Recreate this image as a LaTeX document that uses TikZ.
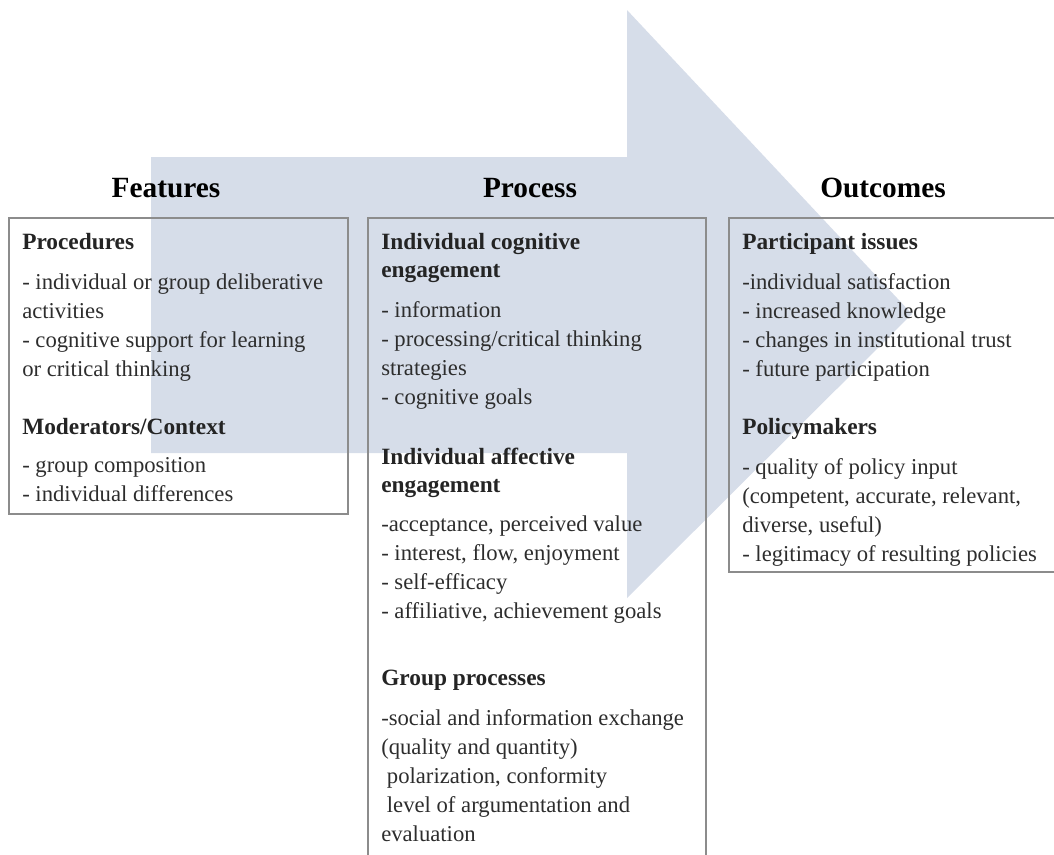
\documentclass[tikz,border=0pt]{standalone}
\usepackage{fontspec}
\setmainfont{Liberation Serif}
\usetikzlibrary{positioning}

\definecolor{arrowfill}{RGB}{214,221,233}
\definecolor{framegrey}{RGB}{140,140,140}
\definecolor{inkgrey}{RGB}{45,45,45}

% multi-line nodes sit on the baseline of their last line
\tikzset{
  heading/.style={font=\bfseries\fontsize{22}{26}\selectfont, anchor=base},
  subhead/.style={font=\bfseries\fontsize{17.5}{21}\selectfont, text=inkgrey!80!black, anchor=base west, align=left, inner sep=0pt},
  bodytext/.style={font=\fontsize{17}{21.75}\selectfont, text=inkgrey, anchor=base west, align=left, inner sep=0pt},
  panel/.style={draw=framegrey, line width=1.1pt}
}

\begin{document}
\begin{tikzpicture}[x=0.75pt,y=-0.75pt]
\useasboundingbox (0,0) rectangle (1054,854);
\clip (0,0) rectangle (1054,854);

% big arrow in the background
\fill[arrowfill] (151,157) -- (627,157) -- (627,10) -- (912,314)
  -- (627,598) -- (627,453) -- (151,453) -- cycle;

% frames
\draw[panel] (9,218) rectangle (348,514);
\draw[panel] (368,870) -- (368,218) -- (706,218) -- (706,870);
\draw[panel] (1070,218) -- (729,218) -- (729,572) -- (1070,572);

% column headings
\node[heading] (feat) at (166,197) {Features};
\node[heading] (proc) at (530,197) {Process};
\node[heading] (outc) at (883,197) {Outcomes};

% features
\node[subhead]  (procd)     at (22,249) {Procedures};
\node[bodytext] (procdlist) at (22,376) {- individual or group deliberative\\activities\\- cognitive support for learning\\or critical thinking};
\node[subhead]  (moder)     at (22,434) {Moderators/Context};
\node[bodytext] (moderlist) at (22,501) {- group composition\\- individual differences};

% process
\node[subhead]  (cogn)      at (381,277) {Individual cognitive\\engagement};
\node[bodytext] (cognlist)  at (381,404) {- information\\- processing/critical thinking\\strategies\\- cognitive goals};
\node[subhead]  (affe)      at (381,492) {Individual affective\\engagement};
\node[bodytext] (affelist)  at (381,618) {-acceptance, perceived value\\- interest, flow, enjoyment\\- self-efficacy\\- affiliative, achievement goals};
\node[subhead]  (grp)       at (381,685) {Group processes};
\node[bodytext] (grplist)   at (381,841) {-social and information exchange\\(quality and quantity)\\\ polarization, conformity\\\ level of argumentation and\\evaluation};

% outcomes
\node[subhead]  (part)      at (742,249) {Participant issues};
\node[bodytext] (partlist)  at (742,376) {-individual satisfaction\\- increased knowledge\\- changes in institutional trust\\- future participation};
\node[subhead]  (polic)     at (742,434) {Policymakers};
\node[bodytext] (policlist) at (742,561) {- quality of policy input\\(competent, accurate, relevant,\\diverse, useful)\\- legitimacy of resulting policies};
\end{tikzpicture}
\end{document}
